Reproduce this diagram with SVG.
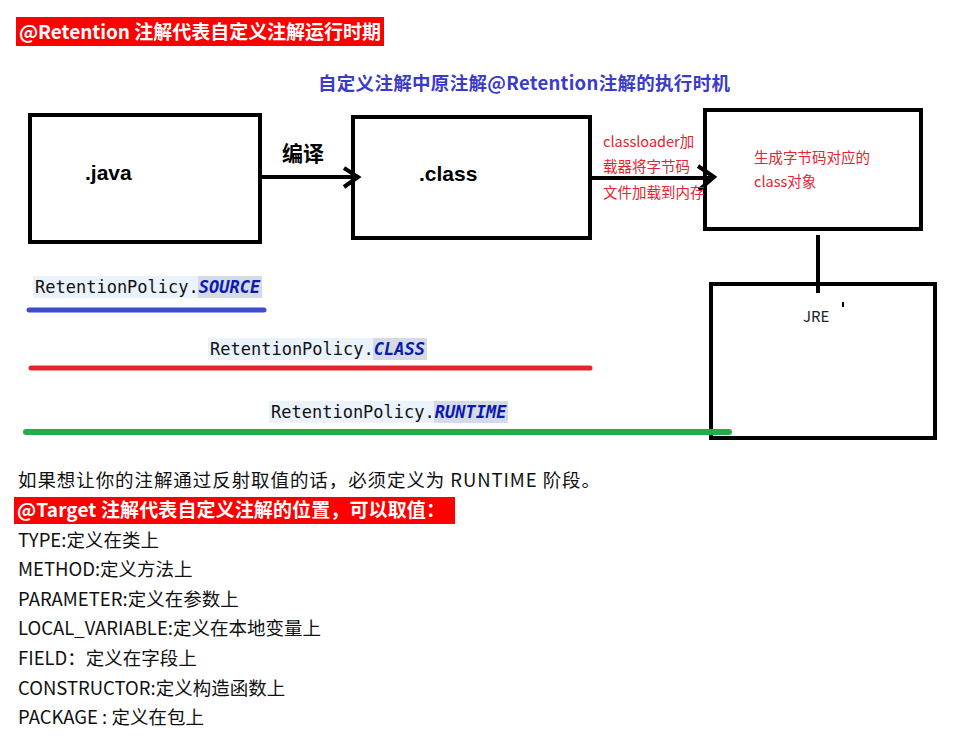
<svg xmlns="http://www.w3.org/2000/svg" width="956" height="738" viewBox="0 0 956 738">
<style>
.box{fill:#fff;stroke:#000;stroke-width:4}
.hdr{font-family:"Noto Sans CJK SC","Liberation Sans",sans-serif;font-weight:bold;font-size:19px;fill:#fff}
.txt{font-family:"Noto Sans CJK SC","Liberation Sans",sans-serif;font-size:18.5px;fill:#111}
.lbl{font-family:"Liberation Sans","Noto Sans CJK SC",sans-serif;font-weight:bold;font-size:21px;fill:#000}
.red{font-family:"Noto Sans CJK SC","Liberation Sans",sans-serif;font-size:14.5px;fill:#e32530}
.mono{font-family:"DejaVu Sans Mono","Liberation Mono",monospace;font-size:17px;fill:#111}
.kw{font-weight:bold;font-style:italic;fill:#0a1ab0}
.conn{stroke:#000;stroke-width:4;fill:none}
</style>
<rect x="0" y="0" width="956" height="738" fill="#fff"/>
<rect x="16" y="17" width="368" height="29" fill="#ff0000"/>
<text class="hdr" x="19" y="39" textLength="362" lengthAdjust="spacing">@Retention 注解代表自定义注解运行时期</text>
<text x="318" y="90" font-family="'Noto Sans CJK SC','Liberation Sans',sans-serif" font-weight="bold" font-size="18.5" fill="#3b3bc9" textLength="412" lengthAdjust="spacing">自定义注解中原注解@Retention注解的执行时机</text>

<g id="java"><rect class="box" x="30" y="115" width="230" height="127"/><text class="lbl" x="85" y="180">.java</text></g>
<g id="class"><rect class="box" x="353" y="117" width="237" height="121"/><text class="lbl" x="419" y="181">.class</text></g>
<g id="classobj"><rect class="box" x="705" y="110" width="216" height="119"/>
<text class="red" x="754" y="163" font-size="15">生成字节码对应的</text><text class="red" x="754" y="187" font-size="15">class对象</text></g>
<g id="jre"><rect class="box" x="711" y="284" width="224" height="154"/>
<text x="803" y="322" font-family="'Noto Sans CJK SC','Liberation Sans',sans-serif" font-size="15" fill="#222">JRE</text>
<line x1="843" y1="302" x2="843" y2="307" stroke="#000" stroke-width="2"/></g>

<g id="connectors">
<line class="conn" x1="260" y1="177" x2="357" y2="177"/>
<polyline class="conn" points="344,168 358,177 344,187"/>
<text x="282" y="161" font-family="'Noto Sans CJK SC',sans-serif" font-weight="bold" font-size="21" fill="#000">编译</text>
<line class="conn" x1="590" y1="178" x2="713" y2="178"/>
<polyline class="conn" points="698,166 714,177 699,190"/>
<text class="red" x="603" y="147">classloader加</text>
<text class="red" x="603" y="172">载器将字节码</text>
<text class="red" x="603" y="198">文件加载到内存</text>
<line class="conn" x1="818" y1="235" x2="818" y2="293"/>
</g>

<g id="source">
<rect x="33" y="276" width="165" height="22" fill="#eaf2fc"/><rect x="198" y="276" width="64" height="22" fill="#d5dbe6"/>
<text class="mono" x="35" y="293">RetentionPolicy.<tspan class="kw">SOURCE</tspan></text>
<line x1="29" y1="310" x2="264" y2="310" stroke="#3f4ccb" stroke-width="5" stroke-linecap="round"/>
</g>
<g id="classpolicy">
<rect x="208" y="338" width="165" height="22" fill="#eaf2fc"/><rect x="373" y="338" width="54" height="22" fill="#d5dbe6"/>
<text class="mono" x="210" y="355">RetentionPolicy.<tspan class="kw">CLASS</tspan></text>
<line x1="31" y1="368" x2="590" y2="368" stroke="#e4262c" stroke-width="5" stroke-linecap="round"/>
</g>
<g id="runtime">
<rect x="269" y="401" width="165" height="22" fill="#eaf2fc"/><rect x="434" y="401" width="74" height="22" fill="#d5dbe6"/>
<text class="mono" x="271" y="418">RetentionPolicy.<tspan class="kw">RUNTIME</tspan></text>
<line x1="26" y1="432" x2="729" y2="432" stroke="#23ad4a" stroke-width="6" stroke-linecap="round"/>
</g>

<text class="txt" x="18" y="487" font-size="19" textLength="582" lengthAdjust="spacing">如果想让你的注解通过反射取值的话，必须定义为 RUNTIME 阶段。</text>
<rect x="14" y="497" width="441" height="27" fill="#ff0000"/>
<text class="hdr" x="17" y="517" textLength="428" lengthAdjust="spacing">@Target 注解代表自定义注解的位置，可以取值：</text>
<text class="txt" x="18" y="547">TYPE:定义在类上</text>
<text class="txt" x="18" y="576">METHOD:定义方法上</text>
<text class="txt" x="18" y="606">PARAMETER:定义在参数上</text>
<text class="txt" x="18" y="635">LOCAL_VARIABLE:定义在本地变量上</text>
<text class="txt" x="18" y="665">FIELD：定义在字段上</text>
<text class="txt" x="18" y="695">CONSTRUCTOR:定义构造函数上</text>
<text class="txt" x="18" y="724">PACKAGE : 定义在包上</text>
</svg>
